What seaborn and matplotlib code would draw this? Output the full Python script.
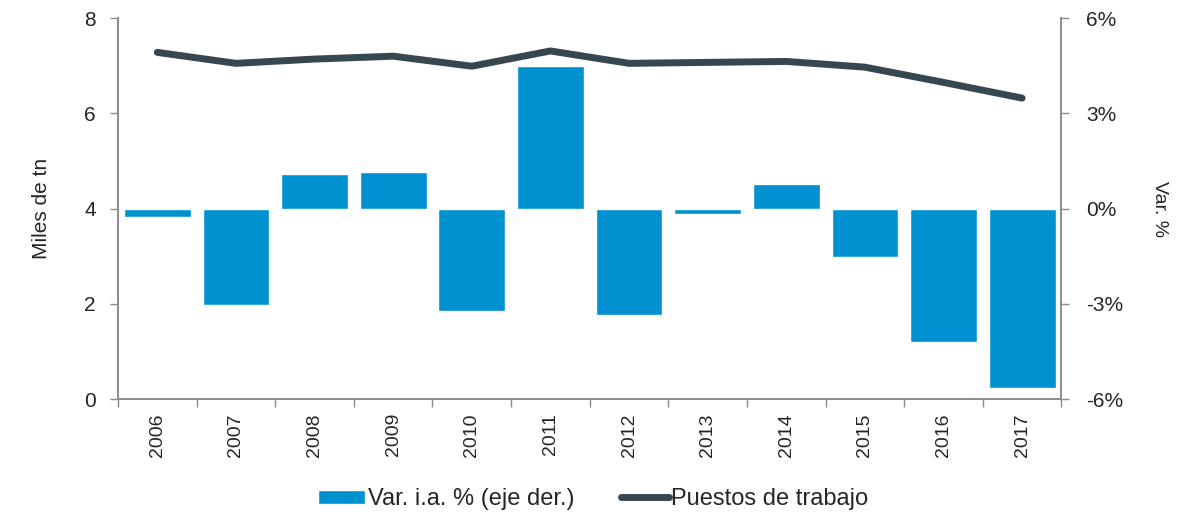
import numpy as np
import pandas as pd
import matplotlib
matplotlib.use("Agg")
import matplotlib.pyplot as plt
import seaborn as sns
from matplotlib.ticker import FuncFormatter, FixedLocator

# -------------------------------
# DATA
# -------------------------------
years = ["2006", "2007", "2008", "2009", "2010", "2011",
         "2012", "2013", "2014", "2015", "2016", "2017"]
var_ia = [-0.25, -3.03, 1.09, 1.15, -3.23, 4.5,
          -3.35, -0.17, 0.79, -1.52, -4.2, -5.65]
puestos = [7.28, 7.05, 7.14, 7.2, 6.99, 7.31,
           7.05, 7.07, 7.09, 6.97, 6.65, 6.32]

df = pd.DataFrame({"year": years, "var": var_ia, "puestos": puestos})

bar_color = "#0092D0"
line_color = "#37474F"
spine_color = "#8C8C8C"
text_color = "#262626"

sns.set_style("white")
plt.rcParams["font.family"] = ["Liberation Sans", "DejaVu Sans"]

fig, ax = plt.subplots(figsize=(11.86, 5.17), dpi=100)
fig.subplots_adjust(left=0.0995, right=0.895, top=0.965, bottom=0.228)

# -------------------------------
# BARS (right axis) + LINE (left axis)
# -------------------------------
sns.barplot(data=df, x="year", y="var", color=bar_color, saturation=1,
            width=0.85, ax=ax, label="Var. i.a. % (eje der.)")
ax.set_ylim(-6, 6)
ax.set_xlim(-0.5, len(years) - 0.5)

ax2 = ax.twinx()
sns.lineplot(x=np.arange(len(years)), y=df["puestos"], color=line_color,
             linewidth=5, ax=ax2, label="Puestos de trabajo",
             solid_capstyle="round", solid_joinstyle="round")
ax2.set_ylim(0, 8)
ax2.set_yticks([0, 2, 4, 6, 8])

# swap sides so the bar axis sits on the right
ax.yaxis.tick_right()
ax.yaxis.set_label_position("right")
ax2.yaxis.tick_left()
ax2.yaxis.set_label_position("left")

ax.set_yticks([-6, -3, 0, 3, 6])
ax.yaxis.set_major_formatter(FuncFormatter(lambda v, p: f"{v:.0f}%"))

ax.set_ylabel("Var. %", rotation=270, labelpad=32, fontsize=14, color=text_color)
ax2.set_ylabel("Miles de tn", fontsize=15, labelpad=24, color=text_color)
ax.set_xlabel("")

ax.tick_params(axis="y", right=True, left=False, length=6, width=1,
               color=spine_color, labelsize=15, labelcolor=text_color, pad=12)
ax2.tick_params(axis="y", left=True, right=False, length=6, width=1,
                color=spine_color, labelsize=15, labelcolor=text_color, pad=10)
ax.tick_params(axis="x", which="major", length=0, labelsize=14,
               labelcolor=text_color, labelrotation=90, pad=10)
ax.xaxis.set_minor_locator(FixedLocator(np.arange(-0.5, len(years), 1.0)))
ax.tick_params(axis="x", which="minor", bottom=True, length=6, width=1,
               color=spine_color)

for a in (ax, ax2):
    for side in ("left", "right", "bottom"):
        a.spines[side].set_visible(True)
        a.spines[side].set_color(spine_color)
        a.spines[side].set_linewidth(1.2)
    a.spines["top"].set_visible(False)
    a.grid(False)

ax.set_zorder(1)
ax2.set_zorder(2)
ax2.patch.set_visible(False)

# -------------------------------
# LEGEND
# -------------------------------
h1, l1 = ax.get_legend_handles_labels()
h2, l2 = ax2.get_legend_handles_labels()
if ax.get_legend():
    ax.get_legend().remove()
if ax2.get_legend():
    ax2.get_legend().remove()
fig.legend(h1 + h2, l1 + l2, loc="lower center", bbox_to_anchor=(0.5, -0.028),
           ncol=2, frameon=False, fontsize=17, handlelength=2.0,
           handleheight=0.55, handletextpad=0.12, columnspacing=2.0)

plt.savefig("out.png", dpi=100)
plt.close()
